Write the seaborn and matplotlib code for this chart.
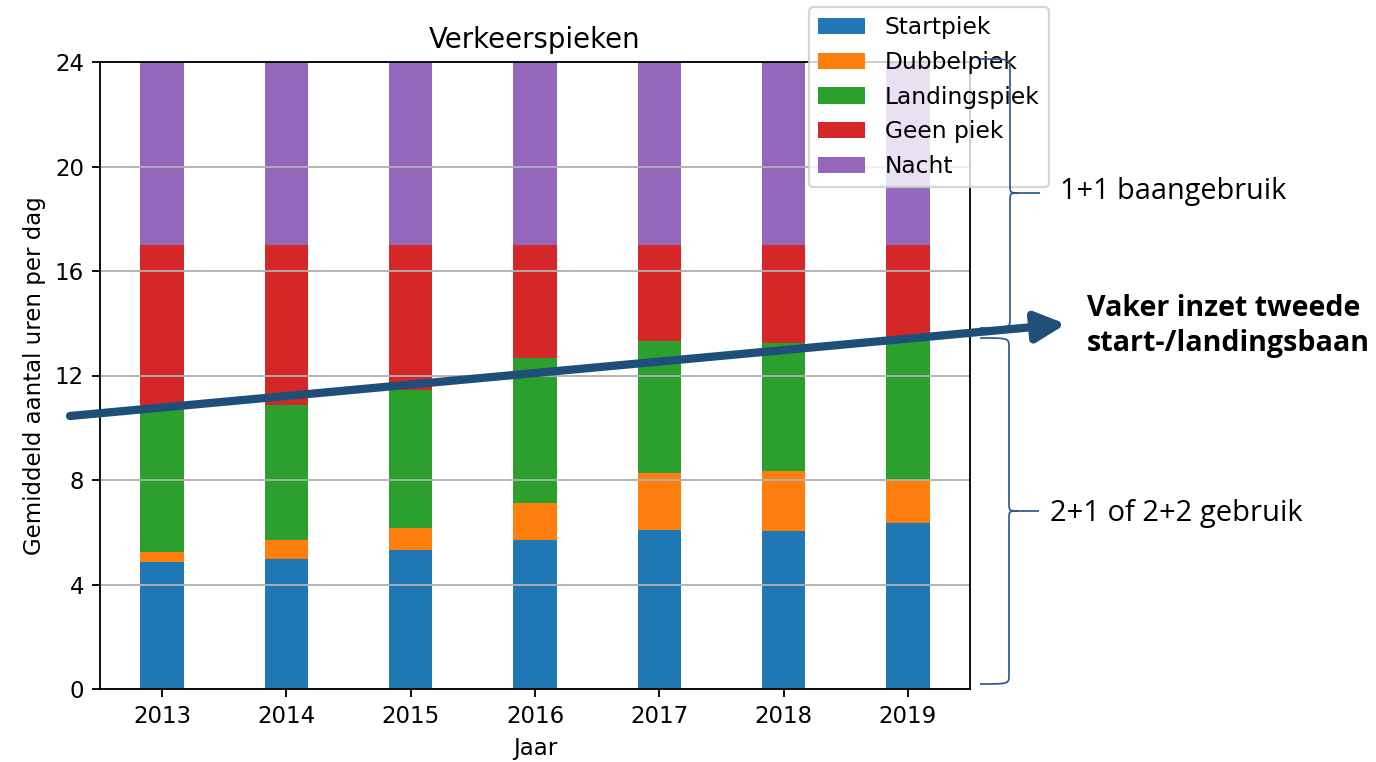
import matplotlib
matplotlib.use("Agg")
import matplotlib.pyplot as plt
import matplotlib.transforms as mtransforms
from matplotlib.patches import Patch, FancyArrowPatch, PathPatch
from matplotlib.path import Path
import numpy as np
import pandas as pd
import seaborn as sns

# Average number of hours per day in each traffic-peak regime
years = ["2013", "2014", "2015", "2016", "2017", "2018", "2019"]
startpiek = [4.86, 4.99, 5.31, 5.70, 6.09, 6.03, 6.34]
dubbelpiek = [0.40, 0.72, 0.85, 1.43, 2.19, 2.31, 1.66]
landingspiek = [5.49, 5.17, 5.30, 5.53, 5.03, 4.91, 5.35]
geen_piek = [6.25, 6.12, 5.54, 4.34, 3.69, 3.75, 3.65]
nacht = [7.0, 7.0, 7.0, 7.0, 7.0, 7.0, 7.0]

categories = ["Startpiek", "Dubbelpiek", "Landingspiek", "Geen piek", "Nacht"]
colors = ["#1f77b4", "#ff7f0e", "#2ca02c", "#d62728", "#9467bd"]
y_ticks = [0, 4, 8, 12, 16, 20, 24]

W, H, DPI = 1376, 762, 165

df = pd.DataFrame({"Jaar": years, "Startpiek": startpiek, "Dubbelpiek": dubbelpiek,
                   "Landingspiek": landingspiek, "Geen piek": geen_piek, "Nacht": nacht})
tops = df[categories].cumsum(axis=1)

fig = plt.figure(figsize=(W / DPI, H / DPI), dpi=DPI)
ax = fig.add_axes([100 / W, 73 / H, 870 / W, 627 / H])

# stacked bars: draw the cumulative totals from the top segment down
for cat, col in reversed(list(zip(categories, colors))):
    sns.barplot(x=df["Jaar"], y=tops[cat], color=col, width=0.35, saturation=1,
                errorbar=None, ax=ax, zorder=1)

ax.set_ylim(0, 24)
ax.set_yticks(y_ticks)
ax.set_xlim(-0.5, len(years) - 0.5)
ax.yaxis.grid(True, color="#b0b0b0", linewidth=0.8)
ax.xaxis.grid(False)
ax.set_axisbelow("line")
ax.set_title("Verkeerspieken")
ax.set_xlabel("Jaar")
ax.set_ylabel("Gemiddeld aantal uren per dag")

# pixel coordinates measured from the top-left corner of the figure
px = mtransforms.Affine2D().scale(1 / W, -1 / H).translate(0, 1) + fig.transFigure

handles = [Patch(facecolor=c, label=l) for c, l in zip(colors, categories)]
ax.legend(handles=handles, loc="upper right", bbox_to_anchor=(1049, 7),
          bbox_transform=px, borderaxespad=0, fontsize=10.2, handletextpad=0.85)

# braces marking the runway-usage regimes
def brace(xs, y0, y1, ym, hook_x, tip_x, r=9, c=9):
    verts = [(hook_x, y0), (xs, y0), (xs, y0), (xs, y0 + r),
             (xs, ym - r),
             (xs, ym), (xs, ym), (xs + c, ym),
             (tip_x, ym),
             (xs + c, ym), (xs, ym), (xs, ym), (xs, ym + r),
             (xs, y1 - r),
             (xs, y1), (xs, y1), (hook_x, y1)]
    codes = [Path.MOVETO, Path.CURVE4, Path.CURVE4, Path.CURVE4,
             Path.LINETO,
             Path.CURVE4, Path.CURVE4, Path.CURVE4,
             Path.LINETO,
             Path.MOVETO, Path.CURVE4, Path.CURVE4, Path.CURVE4,
             Path.LINETO,
             Path.CURVE4, Path.CURVE4, Path.CURVE4]
    fig.add_artist(PathPatch(Path(verts, codes), transform=px, facecolor="none",
                             edgecolor="#2b5a8a", lw=0.75, zorder=5))

brace(1010, 59, 328, 193, 980, 1040)
brace(1009, 338, 684, 511, 980, 1039)

side_font = ["Open Sans", "DejaVu Sans"]
fig.text(1060 / W, 1 - 192 / H, "1+1 baangebruik", family=side_font, fontsize=12.6,
         va="center", ha="left")
fig.text(1050 / W, 1 - 513 / H, "2+1 of 2+2 gebruik", family=side_font, fontsize=12.7,
         va="center", ha="left")
fig.text(1087 / W, 1 - 326 / H, "Vaker inzet tweede\nstart-/landingsbaan", family=side_font,
         fontsize=12.5, fontweight="bold", va="center", ha="left", linespacing=1.3)

# trend arrow across the stacks
arrow = FancyArrowPatch((70, 416), (1066, 324), transform=px, arrowstyle="-|>",
                        mutation_scale=27, lw=3.6, color="#1f4e79",
                        shrinkA=0, shrinkB=0, zorder=6)
fig.add_artist(arrow)

fig.savefig("out.png", dpi=DPI)
